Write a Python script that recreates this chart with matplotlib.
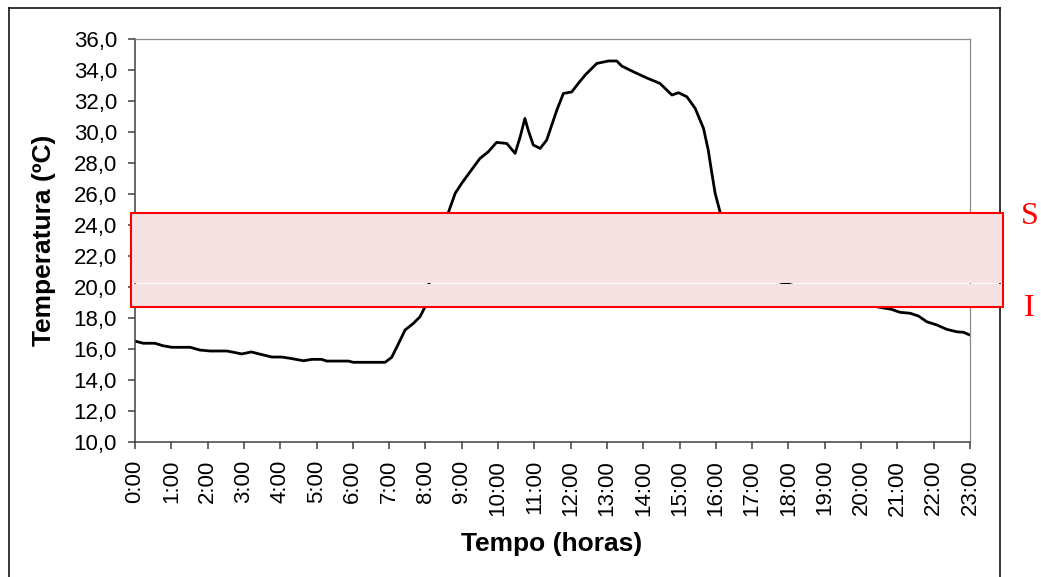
import matplotlib
matplotlib.use("Agg")
import matplotlib.pyplot as plt
from matplotlib.patches import Rectangle
from matplotlib.lines import Line2D

# ---- data ----
hours = [0.00, 0.23, 0.55, 0.77, 1.01, 1.52, 1.79, 2.07, 2.53, 2.71, 2.94, 3.21,
         3.40, 3.77, 4.04, 4.27, 4.64, 4.87, 5.14, 5.28, 5.88, 6.01, 6.89, 7.07,
         7.25, 7.44, 7.67, 7.85, 7.99, 8.10, 8.40, 8.63, 8.82, 9.00, 9.23, 9.50,
         9.73, 9.96, 10.24, 10.47, 10.61, 10.74, 10.83, 10.97, 11.16, 11.34, 11.48,
         11.62, 11.80, 12.03, 12.21, 12.40, 12.72, 13.04, 13.27, 13.41, 13.73,
         14.10, 14.46, 14.65, 14.79, 14.97, 15.20, 15.43, 15.66, 15.79, 15.89,
         15.98, 16.12, 16.40, 16.80, 17.30, 17.96, 19.00, 19.80, 20.43, 20.84,
         21.07, 21.35, 21.58, 21.81, 22.09, 22.36, 22.64, 22.82, 23.00]
temps = [16.50, 16.36, 16.36, 16.20, 16.10, 16.10, 15.92, 15.86, 15.86, 15.78, 15.67, 15.80,
         15.68, 15.47, 15.47, 15.39, 15.23, 15.32, 15.32, 15.21, 15.21, 15.13, 15.13, 15.45,
         16.30, 17.22, 17.65, 18.07, 18.72, 20.25, 23.50, 24.80, 26.05, 26.70, 27.44, 28.30,
         28.73, 29.34, 29.27, 28.63, 29.70, 30.89, 30.14, 29.17, 28.95, 29.49, 30.46,
         31.43, 32.50, 32.60, 33.15, 33.69, 34.44, 34.60, 34.60, 34.27, 33.90,
         33.50, 33.15, 32.72, 32.40, 32.55, 32.29, 31.54, 30.24, 28.84, 27.34,
         26.05, 24.80, 22.50, 21.20, 20.60, 20.20, 19.60, 19.10, 18.72, 18.55,
         18.36, 18.30, 18.12, 17.75, 17.54, 17.26, 17.10, 17.07, 16.89]
x_ticks = list(range(0, 24))
x_tick_labels = [f"{h}:00" for h in x_ticks]
y_ticks = list(range(10, 37, 2))
y_tick_labels = [f"{v},0" for v in y_ticks]
band_labels = ["S", "I"]

W, H = 1041, 577
fig = plt.figure(figsize=(W / 100, H / 100), dpi=100)
fig.patch.set_facecolor("white")

def fx(x):
    return x / W

def fy(y):
    return 1 - y / H

ax = fig.add_axes([fx(135), fy(441.7), fx(970) - fx(135), fy(39.3) - fy(441.7)])
ax.plot(hours, temps, color="black", lw=2.0, solid_joinstyle="round", solid_capstyle="round")
ax.set_xlim(0, 23)
ax.set_ylim(10, 36)
ax.set_xticks(x_ticks)
ax.set_xticklabels(x_tick_labels, rotation=90, fontsize=16, family="Liberation Sans")
ax.set_yticks(y_ticks)
ax.set_yticklabels(y_tick_labels, fontsize=16, family="Liberation Sans")
ax.tick_params(axis="both", direction="out", length=5, width=1.1, color="#404040", pad=8)
for s in ("left", "bottom"):
    ax.spines[s].set_color("#404040")
    ax.spines[s].set_linewidth(1.1)
for s in ("top", "right"):
    ax.spines[s].set_color("#8c8c8c")
    ax.spines[s].set_linewidth(0.9)

fig.text(fx(552), fy(544), "Tempo (horas)", ha="center", va="center",
         fontsize=19, fontweight="bold", family="Liberation Sans")
fig.text(fx(44), fy(240), "Temperatura (ºC)", ha="center", va="center", rotation=90,
         fontsize=19, fontweight="bold", family="Liberation Sans")

# outer frame
frame_kw = dict(color="black", lw=1.1, transform=fig.transFigure)
fig.add_artist(Line2D([fx(9), fx(9)], [fy(8), fy(580)], **frame_kw))
fig.add_artist(Line2D([fx(9), fx(1000)], [fy(8), fy(8)], **frame_kw))
fig.add_artist(Line2D([fx(1000), fx(1000)], [fy(8), fy(580)], **frame_kw))

# comfort band overlay (opaque, with a 1px gap)
pink = "#F6E2E3"
x0, x1 = 131, 1003
fig.add_artist(Rectangle((fx(x0), fy(282.5)), fx(x1) - fx(x0), fy(213) - fy(282.5),
                         transform=fig.transFigure, facecolor=pink, edgecolor="none", zorder=5))
fig.add_artist(Rectangle((fx(x0), fy(307)), fx(x1) - fx(x0), fy(283.6) - fy(307),
                         transform=fig.transFigure, facecolor=pink, edgecolor="none", zorder=5))
fig.add_artist(Rectangle((fx(x0), fy(307)), fx(x1) - fx(x0), fy(213) - fy(307),
                         transform=fig.transFigure, facecolor="none", edgecolor="#ff0000",
                         lw=1.5, zorder=6))

fig.text(fx(1030), fy(223.5), band_labels[0], ha="center", va="baseline", color="#ff0000",
         fontsize=23, family="Liberation Serif")
fig.text(fx(1029), fy(316), band_labels[1], ha="center", va="baseline", color="#ff0000",
         fontsize=23, family="Liberation Serif")

fig.savefig("out.png", dpi=100)
